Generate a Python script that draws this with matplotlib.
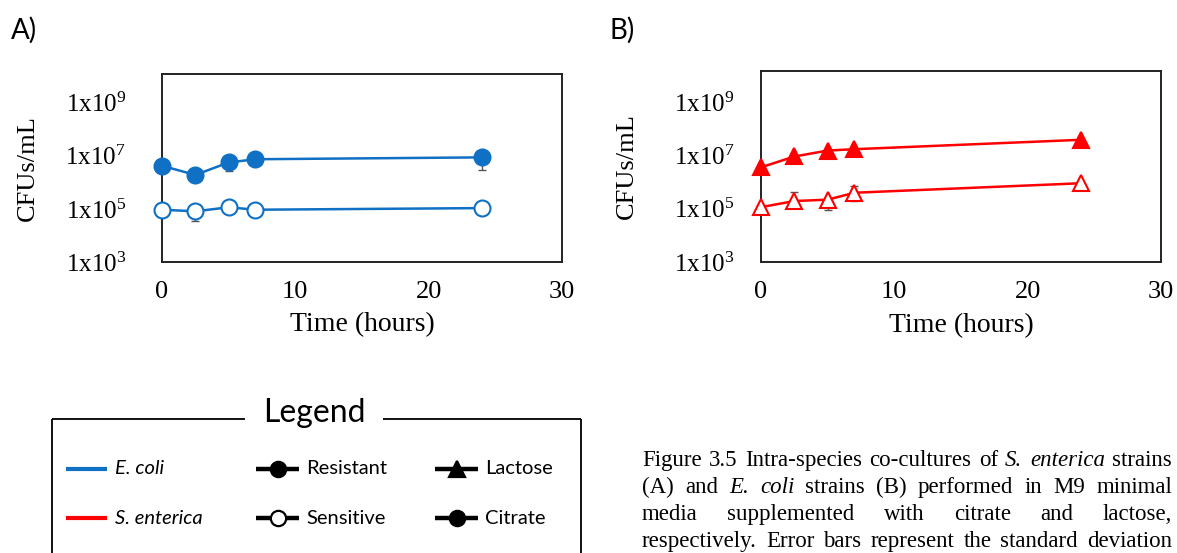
import matplotlib
matplotlib.use("Agg")
import matplotlib.pyplot as plt

plt.rcParams['font.family'] = 'Liberation Serif'
plt.rcParams['mathtext.fontset'] = 'custom'
plt.rcParams['mathtext.rm'] = 'Liberation Serif'
plt.rcParams['mathtext.it'] = 'Liberation Serif:italic'

hours = [0, 2.5, 5, 7, 24]

# A) E. coli strains, resistant (filled) and sensitive (open)
ecoli_resistant = [4.2e6, 1.9e6, 5.6e6, 7.4e6, 8.7e6]
ecoli_resistant_low = [4.2e6, 1.0e6, 2.6e6, 7.4e6, 2.9e6]
ecoli_sensitive = [9.3e4, 8.1e4, 1.15e5, 9.3e4, 1.07e5]
ecoli_sensitive_low = [9.3e4, 3.5e4, 1.15e5, 9.3e4, 1.07e5]

# B) S. enterica strains, resistant (filled) and sensitive (open)
sent_resistant = [3.6e6, 9.2e6, 1.54e7, 1.73e7, 3.9e7]
sent_sensitive = [1.15e5, 1.95e5, 2.2e5, 4.0e5, 9.1e5]
sent_sensitive_low = [1.15e5, 1.95e5, 9.1e4, 2.0e5, 9.1e5]
sent_sensitive_high = [1.15e5, 4.2e5, 2.2e5, 7.4e5, 9.1e5]

yticks = [1e3, 1e5, 1e7, 1e9]
ytick_labels = ['1x10$^{3}$', '1x10$^{5}$', '1x10$^{7}$', '1x10$^{9}$']
xticks = [0, 10, 20, 30]

BLUE = '#0F70C4'
RED = '#FF0000'
W, H = 1177, 553

fig = plt.figure(figsize=(W / 100, H / 100), dpi=100)


def px_axes(left, top, right, bottom):
    return fig.add_axes([left / W, 1 - bottom / H, (right - left) / W, (bottom - top) / H])


def setup(ax, ytop, ypad):
    ax.set_yscale('log')
    ax.set_xlim(0, 30)
    ax.set_ylim(1e3, ytop)
    ax.set_xticks(xticks)
    ax.set_yticks(yticks)
    ax.set_yticklabels(ytick_labels)
    ax.minorticks_off()
    ax.tick_params(axis='y', length=0, labelsize=18, pad=ypad)
    ax.tick_params(axis='x', length=0, labelsize=19, pad=14)
    for s in ax.spines.values():
        s.set_color('#222222')
        s.set_linewidth(1.4)
    ax.set_xlabel('Time (hours)', fontsize=20, va='center')
    ax.xaxis.set_label_coords(0.5, -0.335)
    ax.set_ylabel('CFUs/mL', fontsize=19, va='center')
    ax.yaxis.set_label_coords(-0.335, 0.5)


def series(ax, y, low, high, color, marker, filled):
    err = [[v - lo for v, lo in zip(y, low)], [hi - v for v, hi in zip(y, high)]]
    ax.errorbar(hours, y, yerr=err, fmt='none', ecolor='#555555',
                elinewidth=1, capsize=3, capthick=1, zorder=2)
    ax.plot(hours, y, color=color, lw=1.8, marker=marker, ms=11.5,
            mfc=color if filled else 'white', mec=color, mew=1.5,
            clip_on=False, zorder=3)


axA = px_axes(162, 74, 562, 262)
setup(axA, 1.2e10, 26)
series(axA, ecoli_resistant, ecoli_resistant_low, ecoli_resistant, BLUE, 'o', True)
series(axA, ecoli_sensitive, ecoli_sensitive_low, ecoli_sensitive, BLUE, 'o', False)

axB = px_axes(761, 71, 1161, 262)
setup(axB, 1.5e10, 19)
series(axB, sent_resistant, sent_resistant, sent_resistant, RED, '^', True)
series(axB, sent_sensitive, sent_sensitive_low, sent_sensitive_high, RED, '^', False)

# overlay in pixel coordinates for panel tags, legend box and caption
ov = fig.add_axes([0, 0, 1, 1])
ov.set_xlim(0, W)
ov.set_ylim(H, 0)
ov.axis('off')

SANS = 'Lato'
ov.text(11, 30, 'A)', fontsize=20, family=SANS, va='center')
ov.text(610, 30, 'B)', fontsize=20, family=SANS, va='center')

# legend frame, open at the bottom and broken by its title
k = dict(color='black', lw=1.3, solid_capstyle='butt')
ov.plot([52, 245], [419, 419], **k)
ov.plot([383, 581], [419, 419], **k)
ov.plot([52, 52], [419, 560], clip_on=False, **k)
ov.plot([581, 581], [419, 560], clip_on=False, **k)
ov.text(314, 413, 'Legend', fontsize=23, family=SANS, ha='center', va='center')

rows = [469, 518]
ov.plot([66, 107], [rows[0]] * 2, color=BLUE, lw=3, solid_capstyle='butt')
ov.plot([66, 107], [rows[1]] * 2, color=RED, lw=3, solid_capstyle='butt')
ov.text(115, rows[0], 'E. coli', fontsize=14.5, family=SANS, style='italic', va='center')
ov.text(115, rows[1], 'S. enterica', fontsize=14.5, family=SANS, style='italic', va='center')

symbols = [
    (256, rows[0], 'o', 'black', 'Resistant'),
    (256, rows[1], 'o', 'white', 'Sensitive'),
    (435, rows[0], '^', 'black', 'Lactose'),
    (435, rows[1], 'o', 'black', 'Citrate'),
]
for x0, y0, m, face, label in symbols:
    ov.plot([x0, x0 + 43], [y0, y0], color='black', lw=3.2, solid_capstyle='butt')
    ov.plot([x0 + 21.5], [y0], marker=m, ms=11, mfc=face, mec='black', mew=1.6)
    ov.text(x0 + 50, y0, label, fontsize=14.5, family=SANS, va='center')

# justified caption
caption = [
    [('Figure', 0), ('3.5', 0), ('Intra-species', 0), ('co-cultures', 0), ('of', 0),
     ('S.', 1), ('enterica', 1), ('strains', 0)],
    [('(A)', 0), ('and', 0), ('E.', 1), ('coli', 1), ('strains', 0), ('(B)', 0),
     ('performed', 0), ('in', 0), ('M9', 0), ('minimal', 0)],
    [('media', 0), ('supplemented', 0), ('with', 0), ('citrate', 0), ('and', 0),
     ('lactose,', 0)],
    [('respectively.', 0), ('Error', 0), ('bars', 0), ('represent', 0), ('the', 0),
     ('standard', 0), ('deviation', 0)],
]
baselines = [466, 493, 520, 547]
cap_left, cap_right = 642, 1172
renderer = fig.canvas.get_renderer()
for words, yb in zip(caption, baselines):
    texts = [ov.text(0, yb, w, fontsize=16.5, style='italic' if it else 'normal',
                     va='baseline', ha='left') for w, it in words]
    widths = [t.get_window_extent(renderer).width for t in texts]
    gap = (cap_right - cap_left - sum(widths)) / (len(texts) - 1)
    x = cap_left
    for t, w in zip(texts, widths):
        t.set_x(x)
        x += w + gap

fig.savefig('out.png', dpi=100)
